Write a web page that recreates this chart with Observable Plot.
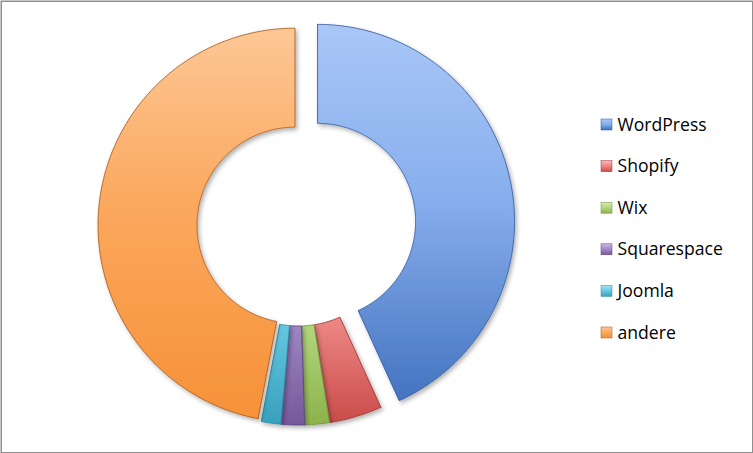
<!DOCTYPE html>
<html><head><meta charset="utf-8">
<script src="https://cdn.jsdelivr.net/npm/d3@7"></script>
<script src="https://cdn.jsdelivr.net/npm/@observablehq/plot@0.6"></script>
<style>html,body{margin:0;padding:0;background:#fff}#chart{width:753px;height:453px}</style>
</head><body><div id="chart"></div>
<script>
// ---- data ----
const categories = ["WordPress", "Shopify", "Wix", "Squarespace", "Joomla", "andere"];
const shares = [43.2, 4.3, 2.0, 1.9, 1.6, 47.0];

// ---- styles / layout ----
const gradStops = [
  ["#a9c7f7", "#86adec", "#3d6dbb"],
  ["#f7b9b8", "#ec8582", "#c94c4a"],
  ["#d5ecb0", "#b3d67e", "#8db34c"],
  ["#c9b8e2", "#9f87c4", "#76599b"],
  ["#a5e2f1", "#66c8e1", "#38a0bd"],
  ["#fdc896", "#fba85e", "#f69137"]
];
const midStop = [0.45, 0.75, 0.75, 0.75, 0.75, 0.45];
const edgeColors = ["#2f5a9c", "#9c3533", "#6f9038", "#5b4280", "#2c8aa5", "#a8581a"];
const explode = [19.5, 2.5, 2.5, 2.5, 2.5, 3.5];
const W = 753, H = 453;
const cx = 298, cy = 225, R = 197, r = 98;

const arcs = d3.pie().sort(null).value(d => d)(shares);
const slices = arcs.map((a, i) => {
  const mid = (a.startAngle + a.endAngle) / 2;
  const ox = explode[i] * Math.sin(mid), oy = -explode[i] * Math.cos(mid);
  const n = Math.max(4, Math.ceil((a.endAngle - a.startAngle) / (Math.PI / 360)));
  const pts = [];
  for (let k = 0; k <= n; k++) {
    const t = a.startAngle + (a.endAngle - a.startAngle) * k / n;
    pts.push({x: cx + ox + R * Math.sin(t), y: cy + oy - R * Math.cos(t)});
  }
  for (let k = n; k >= 0; k--) {
    const t = a.startAngle + (a.endAngle - a.startAngle) * k / n;
    pts.push({x: cx + ox + r * Math.sin(t), y: cy + oy - r * Math.cos(t)});
  }
  pts.push(pts[0]);
  return pts;
});

const legendX = 601, legendTextX = 617, legendY0 = 124.5, legendStep = 41.6, sq = 11;
const legend = categories.map((c, i) => ({name: c, i, fill: `url(#lg${i})`}));

const plot = Plot.plot({
  width: W, height: H, margin: 0,
  x: {domain: [0, W], range: [0, W], axis: null},
  y: {domain: [0, H], range: [0, H], axis: null},
  color: {type: "identity"},
  style: {background: "#fff", fontFamily: "'Open Sans', sans-serif", overflow: "visible"},
  marks: [
    ...slices.map((pts, i) => Plot.line(pts, {
      x: "x", y: "y", fill: `url(#g${i})`, stroke: edgeColors[i], strokeWidth: 0.9,
      strokeOpacity: 0.95, strokeLinejoin: "round", curve: "linear"
    })),
    Plot.rect(legend, {
      x1: () => legendX, x2: () => legendX + sq,
      y1: d => legendY0 + d.i * legendStep - sq / 2, y2: d => legendY0 + d.i * legendStep + sq / 2,
      fill: "fill", stroke: d => edgeColors[d.i], strokeWidth: 0.5
    }),
    Plot.text(legend, {
      x: () => legendTextX, y: d => legendY0 + d.i * legendStep, text: "name",
      textAnchor: "start", fontSize: 17.6, fill: "#000", dy: 0
    }),
    Plot.frame({stroke: "#8f8f8f", strokeWidth: 1.5, inset: 0.75})
  ]
});

// gradients and shadow
const svg = d3.select(plot);
const defs = svg.insert("defs", ":first-child");
gradStops.forEach((s, i) => {
  const g = defs.append("linearGradient").attr("id", `g${i}`)
    .attr("gradientUnits", "userSpaceOnUse").attr("x1", 0).attr("y1", 25).attr("x2", 0).attr("y2", 422);
  g.append("stop").attr("offset", 0).attr("stop-color", s[0]);
  g.append("stop").attr("offset", midStop[i]).attr("stop-color", s[1]);
  g.append("stop").attr("offset", 1).attr("stop-color", s[2]);
  const l = defs.append("linearGradient").attr("id", `lg${i}`)
    .attr("x1", 0).attr("y1", 0).attr("x2", 0).attr("y2", 1);
  l.append("stop").attr("offset", 0).attr("stop-color", s[0]);
  l.append("stop").attr("offset", 0.5).attr("stop-color", s[1]);
  l.append("stop").attr("offset", 1).attr("stop-color", s[2]);
});
const f = defs.append("filter").attr("id", "shadow").attr("x", "-10%").attr("y", "-10%").attr("width", "130%").attr("height", "130%");
f.append("feDropShadow").attr("dx", 2).attr("dy", 2.5).attr("stdDeviation", 2.2)
  .attr("flood-color", "#000").attr("flood-opacity", 0.3);
svg.selectAll('g[aria-label="line"] path').attr("filter", "url(#shadow)");

document.getElementById("chart").appendChild(plot);
</script></body></html>
